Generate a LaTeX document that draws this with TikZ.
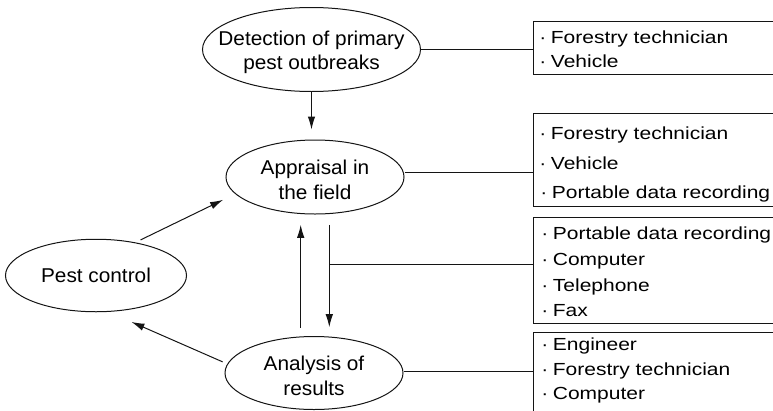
\documentclass[tikz,border=0pt]{standalone}
\usepackage{fontspec}
\setmainfont{Liberation Sans}
\newfontfamily\ellfont[FakeStretch=1.04]{Liberation Sans}
\newfontfamily\boxfont[FakeStretch=1.2]{Liberation Sans}
\usetikzlibrary{arrows.meta,shapes.geometric}
\newcommand{\bul}{\llap{\makebox[0pt]{\textperiodcentered}\hspace{8pt}}}
\begin{document}
\begin{tikzpicture}[x=1pt,y=-1pt,
  ink/.style={draw=black!92, line width=1pt},
  ell/.style={ink, ellipse, inner sep=0pt},
  elltext/.style={font=\ellfont\fontsize{20}{24.5}\selectfont, align=center, text=black, inner sep=0pt},
  boxnode/.style={ink, rectangle, inner sep=0pt, anchor=north west, minimum width=250pt},
  item/.style={font=\boxfont\fontsize{17.5}{21}\selectfont, anchor=base west, inner sep=0pt, text=black},
  arr/.style={ink, -{Latex[length=13pt,width=7.5pt]}},
  link/.style={ink}]
\useasboundingbox (0,0) rectangle (773,410);

% ellipses
\node[ell, minimum width=218pt, minimum height=84pt,
  label={[elltext, yshift=-3pt]center:Detection of primary\\pest outbreaks}] (det) at (311.5,49.5) {};
\node[ell, minimum width=178pt, minimum height=74pt,
  label={[elltext, yshift=-3pt]center:Appraisal in\\the field}] (app) at (315,177) {};
\node[ell, minimum width=181pt, minimum height=72.5pt,
  label={[elltext]center:Pest control}] (pc) at (96,275.5) {};
\node[ell, minimum width=178pt, minimum height=73pt,
  label={[elltext, yshift=-3pt]center:Analysis of\\results}] (ana) at (314,373) {};

% boxes
\node[boxnode, minimum height=53pt] (box1) at (533,21) {};
\node[boxnode, minimum height=93.3pt] (box2) at (533,112.7) {};
\node[boxnode, minimum height=106.6pt] (box3) at (533,216.7) {};
\node[boxnode, minimum height=90pt] (box4) at (533,331.7) {};

% box texts
\node[item] (t11) at (550.7,43.3) {\bul Forestry technician};
\node[item] (t12) at (550.7,67.7) {\bul Vehicle};

\node[item] (t21) at (550.7,139.3) {\bul Forestry technician};
\node[item] (t22) at (550.7,169.3) {\bul Vehicle};
\node[item] (t23) at (551.7,198.3) {\bul Portable data recording};

\node[item] (t31) at (552.7,239.3) {\bul Portable data recording};
\node[item] (t32) at (552.7,265) {\bul Computer};
\node[item] (t33) at (552.7,291) {\bul Telephone};
\node[item] (t34) at (552.7,316) {\bul Fax};

\node[item] (t41) at (552.7,350) {\bul Engineer};
\node[item] (t42) at (552.7,375) {\bul Forestry technician};
\node[item] (t43) at (552.7,399) {\bul Computer};

% helper coordinates
\coordinate (upx) at (300.7,0);
\coordinate (dnx) at (329.3,0);
\coordinate (jn) at (329.3,264);
\coordinate (appE) at ([yshift=4.3pt]app.east);
\coordinate (anaE) at ([yshift=1.3pt]ana.east);

% connectors
\draw[link] (det.east) -- (det.east -| box1.west);
\draw[link] (appE) -- (appE -| box2.west);
\draw[link] (jn) -- (jn -| box3.west);
\draw[link] (anaE) -- (anaE -| box4.west);

\draw[arr, shorten >=10pt] (det.south) -- (det.south |- app.north);
\draw[arr, shorten <=8.2pt, shorten >=10.3pt] (ana.north -| upx) -- (app.south -| upx);
\draw[arr, shorten <=10.3pt, shorten >=8.8pt] (app.south -| dnx) -- (ana.north -| dnx);
\draw[arr, shorten <=5.6pt, shorten >=13.4pt] (pc.40) -- (app.192);
\draw[arr, shorten <=5pt, shorten >=25pt] (ana.174) -- (pc.-71);
\end{tikzpicture}
\end{document}
